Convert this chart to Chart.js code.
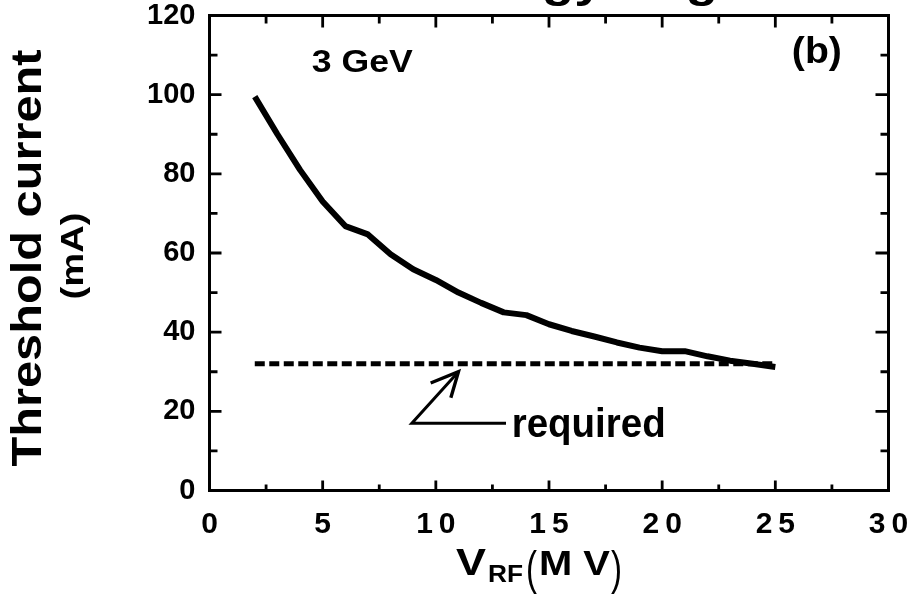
<!DOCTYPE html>
<html>
<head>
<meta charset="utf-8">
<script src="https://cdn.jsdelivr.net/npm/chart.js@4.4.1/dist/chart.umd.min.js"></script>
<style>
html,body{margin:0;padding:0;background:#fff;}
#wrap{width:915px;height:596px;}
</style>
</head>
<body>
<div id="wrap"><canvas id="c" width="915" height="596"></canvas></div>
<script>
// ---- data ----
const vrf = [2,3,4,5,6,7,8,9,10,11,12,13,14,15,16,17,18,19,20,21,22,23,24,25];
const thresholdCurrent = [99.5,90,81,73,66.8,64.7,59.7,55.9,53.2,50,47.4,45,44.3,42,40.3,38.9,37.4,36.1,35.2,35.2,33.9,32.8,32.0,31.2];
const requiredX = [2, 25];
const requiredY = [32, 32];
const xTickValues = [0,5,10,15,20,25,30];
const xTickLabels = ['0','5','1\u20090','1\u20095','2\u20090','2\u20095','3\u20090'];
const yTickValues = [0,20,40,60,80,100,120];
const yTickLabels = ['0','20','40','60','80','100','120'];

const FAM = "'Liberation Sans', Arial, Helvetica, sans-serif";

function drawText(ctx, text, x, y, size, width, rot, align, weight) {
  ctx.save();
  ctx.font = (weight || 'bold') + ' ' + size + 'px ' + FAM;
  ctx.fillStyle = '#000';
  ctx.textBaseline = 'alphabetic';
  ctx.textAlign = align || 'left';
  const w = ctx.measureText(text).width;
  const sx = width ? width / w : 1;
  ctx.translate(x, y);
  if (rot) ctx.rotate(rot);
  ctx.scale(sx, 1);
  ctx.fillText(text, 0, 0);
  ctx.restore();
}

const decorPlugin = {
  id: 'decor',
  afterDraw(chart) {
    const ctx = chart.ctx;
    const ca = chart.chartArea;
    const xs = chart.scales.x, ys = chart.scales.y;
    ctx.save();
    ctx.strokeStyle = '#000';
    ctx.lineCap = 'butt';
    // frame
    ctx.lineWidth = 3;
    ctx.strokeRect(ca.left, ca.top, ca.right - ca.left, ca.bottom - ca.top);
    // inward ticks (major at the scale ticks, minor halfway)
    ctx.lineWidth = 2.8;
    const xStep = 2.5, yStep = 10;
    for (let v = xs.min + xStep; v < xs.max - 1e-6; v += xStep) {
      const px = xs.getPixelForValue(v);
      const major = xTickValues.includes(Math.round(v * 100) / 100);
      ctx.beginPath();
      ctx.moveTo(px, ca.bottom); ctx.lineTo(px, ca.bottom - (major ? 10 : 6));
      ctx.moveTo(px, ca.top); ctx.lineTo(px, ca.top + (major ? 12 : 8));
      ctx.stroke();
    }
    for (let v = ys.min + yStep; v < ys.max - 1e-6; v += yStep) {
      const py = ys.getPixelForValue(v);
      const major = yTickValues.includes(v);
      ctx.beginPath();
      ctx.moveTo(ca.left, py); ctx.lineTo(ca.left + (major ? 12 : 8), py);
      ctx.moveTo(ca.right, py); ctx.lineTo(ca.right - (major ? 13 : 8), py);
      ctx.stroke();
    }
    // arrow pointing to the "required" line
    const tip = {x: 11.0, y: 30.0}, tail = {x: 8.94, y: 17.0}, tailEnd = {x: 13.1, y: 17.0};
    const tX = xs.getPixelForValue(tip.x), tY = ys.getPixelForValue(tip.y);
    const aX = xs.getPixelForValue(tail.x), aY = ys.getPixelForValue(tail.y);
    const eX = xs.getPixelForValue(tailEnd.x);
    ctx.lineWidth = 3;
    ctx.lineJoin = 'miter';
    ctx.beginPath();
    ctx.moveTo(eX, aY); ctx.lineTo(aX, aY); ctx.lineTo(tX, tY);
    ctx.stroke();
    const ang = Math.atan2(aY - tY, aX - tX);
    const hl = 30, spread = 0.45;
    ctx.lineWidth = 3.4;
    ctx.beginPath();
    ctx.moveTo(tX + hl * Math.cos(ang + spread), tY + hl * Math.sin(ang + spread));
    ctx.lineTo(tX, tY);
    ctx.lineTo(tX + hl * 0.9 * Math.cos(ang - spread), tY + hl * 0.9 * Math.sin(ang - spread));
    ctx.stroke();
    ctx.restore();

    // annotations inside the plot
    drawText(ctx, 'required', xs.getPixelForValue(13.35), ys.getPixelForValue(13.6), 41, 154);
    drawText(ctx, '3 GeV', xs.getPixelForValue(4.52), ys.getPixelForValue(105.8), 32, 101);
    drawText(ctx, '(b)', xs.getPixelForValue(25.73), ys.getPixelForValue(107.9), 36, 50);

    // y axis title (two lines, rotated)
    const cy = (ca.top + ca.bottom) / 2;
    drawText(ctx, 'Threshold current', 41, cy + 5, 42, 417, -Math.PI / 2, 'center');
    drawText(ctx, '(mA)', 83, cy + 3, 31, 87, -Math.PI / 2, 'center');

    // x axis title V_RF (MV)
    drawText(ctx, 'V', 456, 575, 36, 30);
    drawText(ctx, 'RF', 488, 582, 23, 35);
    drawText(ctx, '(', 526, 584, 46, 11, 0, 'left', 'normal');
    drawText(ctx, 'M V', 539, 575, 35, 71);
    drawText(ctx, ')', 611, 584, 46, 11, 0, 'left', 'normal');

    // figure title, cut off at the top edge of the picture
    drawText(ctx, 'Low energy ring', 310, -3, 44, 408);
  }
};

new Chart(document.getElementById('c'), {
  type: 'line',
  data: {
    datasets: [
      {
        label: 'Threshold current',
        data: vrf.map((x, i) => ({x: x, y: thresholdCurrent[i]})),
        borderColor: '#000',
        borderWidth: 6,
        pointRadius: 0,
        tension: 0,
        borderJoinStyle: 'round',
        borderCapStyle: 'butt',
        fill: false
      },
      {
        label: 'required',
        data: requiredX.map((x, i) => ({x: x, y: requiredY[i]})),
        borderColor: '#000',
        borderWidth: 5,
        borderDash: [10, 4.5],
        pointRadius: 0,
        tension: 0,
        fill: false
      }
    ]
  },
  options: {
    responsive: false,
    animation: false,
    devicePixelRatio: 1,
    layout: { padding: { top: 15.5, right: 26.5, left: 0, bottom: 0 } },
    plugins: { legend: { display: false }, tooltip: { enabled: false }, title: { display: false } },
    scales: {
      x: {
        type: 'linear',
        min: 0, max: 30,
        grid: { display: false, drawTicks: false },
        border: { display: false },
        afterBuildTicks(scale) { scale.ticks = xTickValues.map(v => ({value: v})); },
        afterFit(scale) { scale.height = 596 - 490.5; scale.paddingLeft = 0; scale.paddingRight = 0; },
        ticks: {
          autoSkip: false, maxRotation: 0, minRotation: 0,
          padding: 16,
          color: '#000',
          font: { family: FAM, size: 30, weight: 'bold' },
          callback: (v) => { const i = xTickValues.indexOf(v); return i >= 0 ? xTickLabels[i] : ''; }
        }
      },
      y: {
        type: 'linear',
        min: 0, max: 120,
        grid: { display: false, drawTicks: false },
        border: { display: false },
        afterBuildTicks(scale) { scale.ticks = yTickValues.map(v => ({value: v})); },
        afterFit(scale) { scale.width = 209.5; scale.paddingTop = 0; scale.paddingBottom = 0; },
        ticks: {
          autoSkip: false,
          padding: 14,
          color: '#000',
          font: { family: FAM, size: 29, weight: 'bold' },
          callback: (v) => { const i = yTickValues.indexOf(v); return i >= 0 ? yTickLabels[i] : ''; }
        }
      }
    }
  },
  plugins: [decorPlugin]
});
</script>
</body>
</html>
